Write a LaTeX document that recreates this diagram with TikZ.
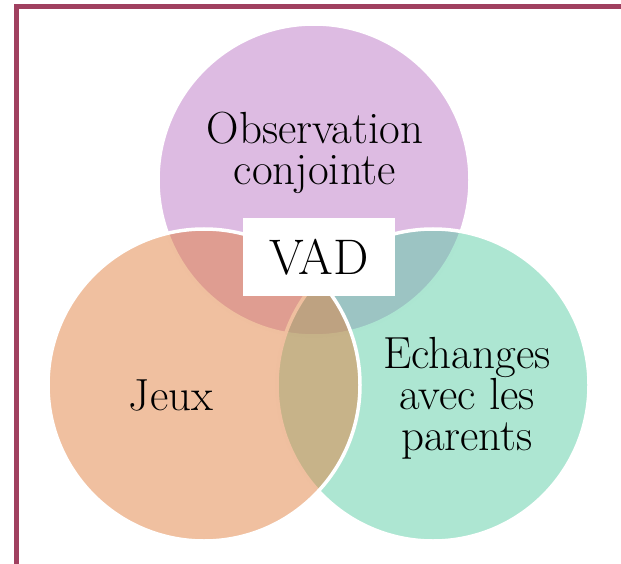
\documentclass[tikz,border=0pt]{standalone}
\usepackage{tikz}
\definecolor{cadre}{RGB}{160,64,96}
\definecolor{violetA}{RGB}{187,119,197}
\definecolor{orangeA}{RGB}{225,129,65}
\definecolor{vertA}{RGB}{91,205,165}
\tikzset{
  disque/.style={circle,minimum size=312pt,inner sep=0pt,draw=white,line width=3.5pt,fill opacity=.5},
  texte/.style={align=center,inner sep=0pt,font=\fontsize{45}{41}\selectfont}
}

\begin{document}
\begin{tikzpicture}[x=1pt,y=-1pt]
\useasboundingbox (0,0) rectangle (621,564);
% cadre
\draw[cadre,line width=5pt] (16,566) -- (16,6.7) -- (630,6.7);
% les trois disques
\node[disque,fill=violetA] (obs) at (314,180) {};
\node[disque,fill=vertA] (ech) at (433,385) {};
\node[disque,fill=orangeA] (jeux) at (204,385) {};
% textes
\node[texte] (tobs) at (315,153) {Observation\\conjointe};
\node[texte] (tjeux) at (171,395) {Jeux};
\node[texte] (tech) at (467,398) {Echanges\\avec les\\parents};
\node[fill=white,minimum width=152pt,minimum height=78pt,font=\fontsize{50}{50}\selectfont] (vad) at (319,257) {VAD};
\end{tikzpicture}
\end{document}
